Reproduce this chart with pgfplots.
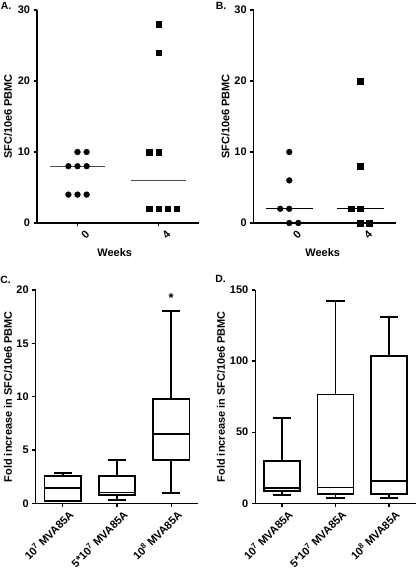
\documentclass[border=0pt]{standalone}
\usepackage{fontspec}
\setmainfont{Liberation Sans}
\usepackage{pgfplots}
\pgfplotsset{compat=1.18}
\usepgfplotslibrary{statistics}

\pgfplotsset{
  prism/.style={
    scale only axis,
    anchor=south west,
    axis x line*=bottom,
    axis y line*=left,
    axis line style={line width=1.2bp, black},
    every tick/.style={line width=1.2bp, black},
    tick align=outside,
    major tick length=3.5bp,
    tick label style={font=\fontsize{11}{13}\selectfont\bfseries},
    label style={font=\fontsize{11}{13}\selectfont\bfseries},
    /pgf/number format/assume math mode=true,
    clip=false,
    ytick pos=left,
    xtick pos=bottom,
  },
  dotpanel/.style={
    prism,
    xmin=-0.5, xmax=1.5,
    ymin=0, ymax=30,
    ytick={0,10,20,30},
    xtick={0,1},
    xticklabels={0,4},
    xticklabel style={rotate=45, anchor=center, yshift=-11bp},
    xlabel={Weeks},
    ylabel={SFC/10e6 PBMC},
  },
  boxpanel/.style={
    prism,
    boxplot/draw direction=y,
    boxplot/every box/.style={draw=black, line width=1.7bp},
    boxplot/every median/.style={draw=black, line width=1.7bp},
    boxplot/every whisker/.style={draw=black, line width=1.7bp},
    xmin=-0.5, xmax=2.5,
    ymin=0,
    xtick={0,1,2},
    xticklabels={10\textsuperscript{7} MVA85A, 5*10\textsuperscript{7} MVA85A, 10\textsuperscript{8} MVA85A},
    xticklabel style={rotate=45, anchor=north east, inner sep=1bp, xshift=3bp, yshift=-4bp},
    ylabel={Fold increase in SFC/10e6 PBMC},
  },
  bx/.style={draw=black, line width=1.7bp, solid, mark=none},
}

\begin{document}
\begin{tikzpicture}
\useasboundingbox (0,0) rectangle (416bp,574bp);

% Panel A
\begin{axis}[dotpanel,
  at={(37bp,351bp)}, width=162bp, height=213bp,
  ylabel style={at={(axis description cs:-0.179,0.5)}, anchor=center},
  xlabel style={at={(axis description cs:0.48,-0.141)}, anchor=center},
]
\addplot[only marks, mark=*, mark size=2.9bp, black] coordinates {
  (0,10) (0.1125,10)
  (-0.1125,8) (0,8) (0.1125,8)
  (-0.1125,4) (0,4) (0.1125,4)
};
\addplot[only marks, mark=square*, mark size=2.8bp, black] coordinates {
  (1,28) (1,24)
  (0.8875,10) (1,10)
  (0.8875,2) (1,2) (1.1125,2) (1.225,2)
};
\addplot[line width=1.3bp, black!70] coordinates {(-0.3375,8) (0.3375,8)};
\addplot[line width=1.3bp, black!70] coordinates {(0.66,6) (1.34,6)};
\end{axis}

% Panel B
\begin{axis}[dotpanel,
  at={(253.7bp,351bp)}, width=142.3bp, height=213bp,
  ylabel style={at={(axis description cs:-0.198,0.5)}, anchor=center},
  xlabel style={at={(axis description cs:0.485,-0.141)}, anchor=center},
]
\addplot[line width=1.3bp, black] coordinates {(-0.33,2) (0.33,2)};
\addplot[line width=1.3bp, black] coordinates {(0.67,2) (1.33,2)};
\addplot[only marks, mark=*, mark size=2.9bp, black] coordinates {
  (0,10) (0,6) (-0.127,2) (0,2) (0,0) (0.127,0)
};
\addplot[only marks, mark=square*, mark size=2.8bp, black] coordinates {
  (1,20) (1,8) (0.873,2) (1,2) (1,0) (1.127,0)
};
\end{axis}

% Panel C
\begin{axis}[boxpanel,
  at={(35.7bp,70.7bp)}, width=162.6bp, height=213.3bp,
  ymax=20, ytick={0,5,10,15,20},
  ylabel style={at={(axis description cs:-0.170,0.5)}, anchor=center},
]
\addplot[bx, boxplot prepared={draw position=0, lower whisker=0.2, lower quartile=0.24,
  median=1.41, upper quartile=2.56, upper whisker=2.81, box extend=0.67, whisker extend=0.34}]
  coordinates {};
\addplot[bx, boxplot prepared={draw position=1, lower whisker=0.31, lower quartile=0.8,
  median=1.0, upper quartile=2.56, upper whisker=4.03, box extend=0.67, whisker extend=0.34}]
  coordinates {};
\addplot[bx, boxplot prepared={draw position=2, lower whisker=0.99, lower quartile=4.06,
  median=6.5, upper quartile=9.78, upper whisker=18.0, box extend=0.67, whisker extend=0.34}]
  coordinates {};
\node[font=\fontsize{13}{15}\selectfont\bfseries] at (axis cs:2,19.2) {*};
\end{axis}

% Panel D
\begin{axis}[boxpanel,
  at={(255.3bp,70.7bp)}, width=160.4bp, height=213.3bp,
  ymax=150, ytick={0,50,100,150},
  ylabel style={at={(axis description cs:-0.213,0.5)}, anchor=center},
]
\addplot[bx, boxplot prepared={draw position=0, lower whisker=6.0, lower quartile=8.5,
  median=10.8, upper quartile=29.8, upper whisker=60.2, box extend=0.67, whisker extend=0.34}]
  coordinates {};
\addplot[bx, boxplot prepared={draw position=1, lower whisker=3.5, lower quartile=6.5,
  median=11.2, upper quartile=76.6, upper whisker=142.3, box extend=0.67, whisker extend=0.34}]
  coordinates {};
\addplot[bx, boxplot prepared={draw position=2, lower whisker=3.8, lower quartile=6.4,
  median=15.9, upper quartile=103.6, upper whisker=131.0, box extend=0.67, whisker extend=0.34}]
  coordinates {};
\end{axis}

% Panel letters
\begin{scope}[every node/.style={font=\fontsize{10.5}{12}\selectfont\bfseries, inner sep=0pt}]
\node at (6bp,568bp) {A.};
\node at (221bp,568bp) {B.};
\node at (5.5bp,294bp) {C.};
\node at (220.5bp,295.5bp) {D.};
\end{scope}
\end{tikzpicture}
\end{document}
